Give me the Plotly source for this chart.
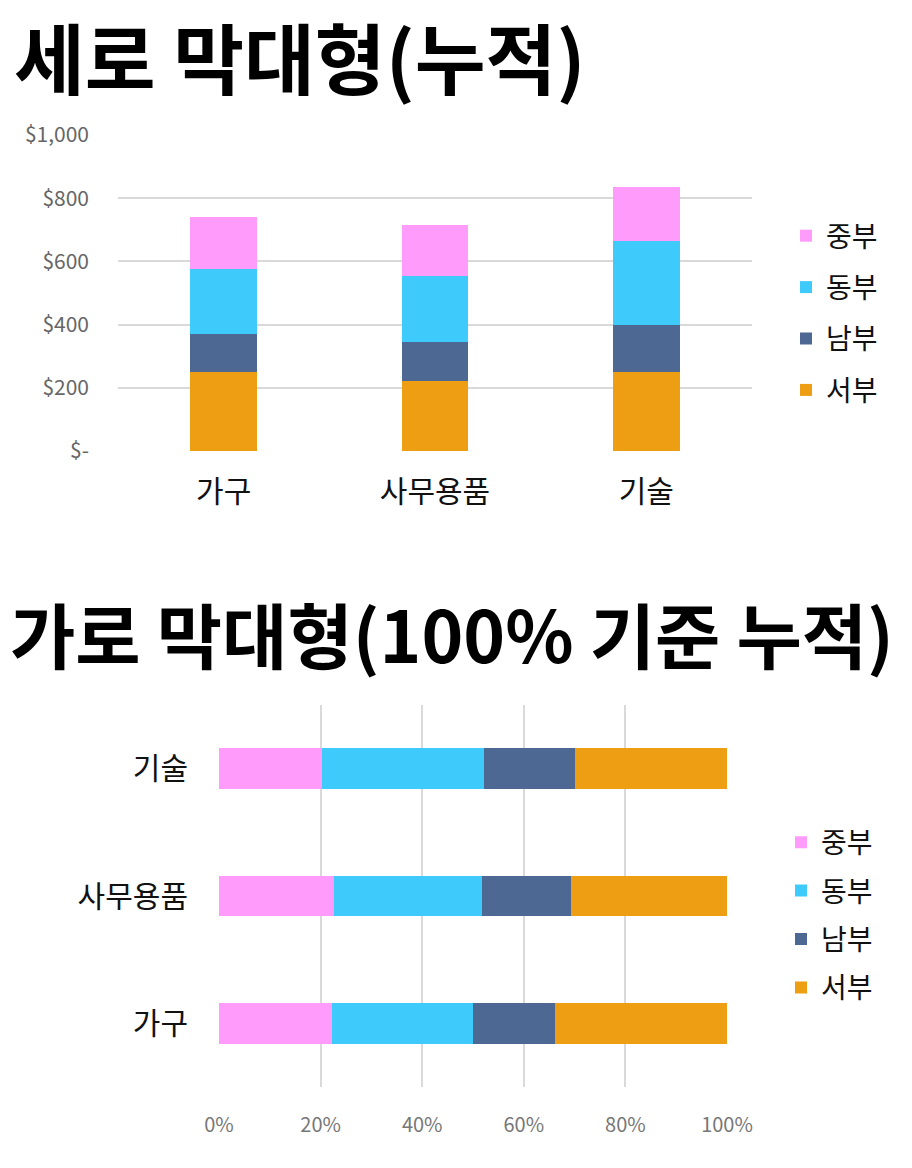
import plotly.graph_objects as go

categories = ["가구", "사무용품", "기술"]
regions = ["서부", "남부", "동부", "중부"]
west = [250, 220, 250]
south = [120, 125, 150]
east = [205, 208, 265]
central = [165, 162, 170]
y_ticks = [0, 200, 400, 600, 800, 1000]
y_labels = ["$-", "$200", "$400", "$600", "$800", "$1,000"]
x_ticks = [0, 20, 40, 60, 80, 100]
x_labels = ["0%", "20%", "40%", "60%", "80%", "100%"]

colors = {"서부": "#EE9E12", "남부": "#4D6892", "동부": "#3ECBFB", "중부": "#FF9BFA"}
series = {"서부": west, "남부": south, "동부": east, "중부": central}
rank = {"중부": 1, "동부": 2, "남부": 3, "서부": 4}

totals = [sum(v) for v in zip(west, south, east, central)]

W, H = 912, 1168
FONT = "Noto Sans CJK KR"

fig = go.Figure()

# top: stacked columns
for name in regions:
    fig.add_trace(go.Bar(
        x=categories, y=series[name], name=name,
        marker=dict(color=colors[name], line=dict(width=0)),
        width=0.315, xaxis="x", yaxis="y",
        legend="legend", legendgroup="a" + name, legendrank=rank[name],
    ))

# bottom: 100% stacked bars (shares computed from the same data)
for name in ["중부", "동부", "남부", "서부"]:
    pct = [v / t * 100 for v, t in zip(series[name], totals)]
    fig.add_trace(go.Bar(
        y=categories, x=pct, name=name, orientation="h",
        marker=dict(color=colors[name], line=dict(width=0)),
        width=0.32, xaxis="x2", yaxis="y2",
        legend="legend2", legendgroup="b" + name, legendrank=rank[name],
    ))

fig.update_layout(
    template="none",
    width=W, height=H,
    margin=dict(l=0, r=0, t=0, b=0, autoexpand=False),
    paper_bgcolor="white", plot_bgcolor="white",
    barmode="stack",
    font=dict(family=FONT, color="#111"),
    xaxis=dict(
        domain=[118 / W, 752 / W], range=[-0.5, 2.5], automargin=False,
        showgrid=False, showline=False, zeroline=False, ticks="",
        tickfont=dict(size=30, color="#111"), ticklabelstandoff=20,
    ),
    yaxis=dict(
        domain=[1 - 451 / H, 1 - 135 / H], range=[0, 1000], automargin=False,
        tickvals=y_ticks, ticktext=y_labels, ticks="",
        showgrid=True, gridcolor="#d9d9d9", gridwidth=2,
        zeroline=False, showline=False,
        tickfont=dict(size=21, color="#666"), ticklabelstandoff=28,
    ),
    xaxis2=dict(
        domain=[219 / W, 727 / W], range=[0, 100], anchor="y2", automargin=False,
        tickvals=x_ticks, ticktext=x_labels, ticks="",
        showgrid=True, gridcolor="#d9d9d9", gridwidth=2,
        zeroline=False, showline=False,
        tickfont=dict(size=20, color="#777"), ticklabelstandoff=24,
    ),
    yaxis2=dict(
        domain=[1 - 1087 / H, 1 - 705 / H], range=[-0.5, 2.5], anchor="x2",
        automargin=False, ticks="",
        showgrid=False, zeroline=False, showline=False,
        tickfont=dict(size=30, color="#111"), ticklabelstandoff=30,
    ),
    legend=dict(
        x=786 / W, y=1 - 313 / H, xanchor="left", yanchor="middle",
        traceorder="grouped", tracegroupgap=12,
        font=dict(size=28, color="#111"), bgcolor="rgba(0,0,0,0)",
        itemwidth=30,
    ),
    legend2=dict(
        x=781 / W, y=1 - 915 / H, xanchor="left", yanchor="middle",
        traceorder="grouped", tracegroupgap=9,
        font=dict(size=28, color="#111"), bgcolor="rgba(0,0,0,0)",
        itemwidth=30,
    ),
    annotations=[
        dict(text="<b>세로 막대형(누적)</b>", xref="paper", yref="paper",
             x=12 / W, y=1 - 56 / H, xanchor="left", yanchor="middle",
             showarrow=False, font=dict(size=77, color="#000")),
        dict(text="<b>가로 막대형(100% 기준 누적)</b>", xref="paper", yref="paper",
             x=8 / W, y=1 - 632 / H, xanchor="left", yanchor="middle",
             showarrow=False, font=dict(size=71, color="#000")),
    ],
)

fig.write_html("out.html", config={"displayModeBar": False},
               post_script="document.body.style.margin = '0';")
